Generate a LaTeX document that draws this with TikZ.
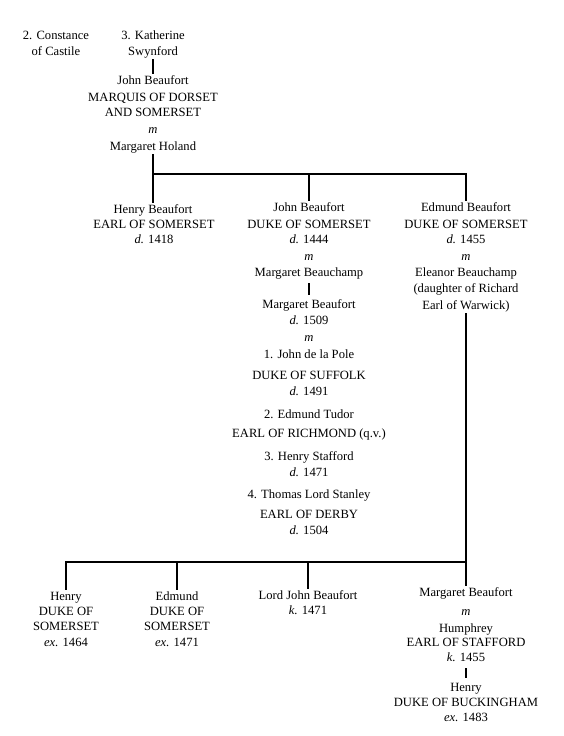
\documentclass[tikz,border=0pt]{standalone}
\usepackage{fontspec}
\setmainfont{Liberation Serif}
\begin{document}
\begin{tikzpicture}[x=1pt,y=-1pt,
  t/.style={inner xsep=1pt, inner ysep=1.5pt, text height=8.5pt, text depth=2.5pt,
            font=\fontsize{12.6}{14}\selectfont},
  link/.style={line width=1.3pt, line cap=rect},
  short/.style={shorten <=3pt, shorten >=3pt}]
\useasboundingbox[fill=white] (0,0) rectangle (564,736);

% top generation
\node[t] (con1) at (56,36) {2. Constance};
\node[t] (con2) at (56,52) {of Castile};
\node[t] (kat1) at (153,36) {3. Katherine};
\node[t] (kat2) at (153,52) {Swynford};
\node[t] (jbm1) at (153,81) {John Beaufort};
\node[t] (jbm2) at (153,98) {MARQUIS OF DORSET};
\node[t] (jbm3) at (153,113) {AND SOMERSET};
\node[t] (jbmm) at (153,130) {\textit{m}};
\node[t] (mhol) at (153,147) {Margaret Holand};

% second generation
\node[t] (hb1) at (153,210) {Henry Beaufort};
\node[t] (hb2) at (154,225) {EARL OF SOMERSET};
\node[t] (hb3) at (154,240) {\textit{d.} 1418};

\node[t] (jd1) at (309,208) {John Beaufort};
\node[t] (jd2) at (309,225) {DUKE OF SOMERSET};
\node[t] (jd3) at (309,240) {\textit{d.} 1444};
\node[t] (jdm) at (309,257) {\textit{m}};
\node[t] (mbc) at (309,273) {Margaret Beauchamp};
\node[t] (mbf1) at (309,305) {Margaret Beaufort};
\node[t] (mbf2) at (309,321) {\textit{d.} 1509};
\node[t] (mbfm) at (309,338) {\textit{m}};
\node[t] (hu1) at (309,355) {1. John de la Pole};
\node[t] (hu2) at (309,376) {DUKE OF SUFFOLK};
\node[t] (hu3) at (309,392) {\textit{d.} 1491};
\node[t] (hu4) at (309,415) {2. Edmund Tudor};
\node[t] (hu5) at (309,434) {EARL OF RICHMOND (q.v.)};
\node[t] (hu6) at (309,457) {3. Henry Stafford};
\node[t] (hu7) at (309,473) {\textit{d.} 1471};
\node[t] (hu8) at (309,495) {4. Thomas Lord Stanley};
\node[t] (hu9) at (309,515) {EARL OF DERBY};
\node[t] (hu10) at (309,531) {\textit{d.} 1504};

\node[t] (eb1) at (466,208) {Edmund Beaufort};
\node[t] (eb2) at (466,225) {DUKE OF SOMERSET};
\node[t] (eb3) at (466,240) {\textit{d.} 1455};
\node[t] (ebm) at (466,257) {\textit{m}};
\node[t] (el1) at (466,273) {Eleanor Beauchamp};
\node[t] (el2) at (466,289) {(daughter of Richard};
\node[t] (el3) at (466,306) {Earl of Warwick)};

% third generation
\node[t] (hs1) at (66,597) {Henry};
\node[t] (hs2) at (66,612) {DUKE OF};
\node[t] (hs3) at (66,627) {SOMERSET};
\node[t] (hs4) at (66,643) {\textit{ex.} 1464};

\node[t] (es1) at (177,597) {Edmund};
\node[t] (es2) at (177,612) {DUKE OF};
\node[t] (es3) at (177,627) {SOMERSET};
\node[t] (es4) at (177,643) {\textit{ex.} 1471};

\node[t] (lj1) at (308,596) {Lord John Beaufort};
\node[t] (lj2) at (308,611) {\textit{k.} 1471};

\node[t] (mg1) at (466,593) {Margaret Beaufort};
\node[t] (mgm) at (466,612) {\textit{m}};
\node[t] (mg2) at (466,629) {Humphrey};
\node[t] (mg3) at (466,643) {EARL OF STAFFORD};
\node[t] (mg4) at (466,658) {\textit{k.} 1455};
\node[t] (hbk1) at (466,688) {Henry};
\node[t] (hbk2) at (466,703) {DUKE OF BUCKINGHAM};
\node[t] (hbk3) at (466,718) {\textit{ex.} 1483};

% connectors
\coordinate (barA) at (153,174);
\coordinate (barB) at (466,562);

\draw[link] (kat2.south) -- (jbm1.north);
\draw[link] (mhol.south) -- (hb1.north);
\draw[link] (barA) -| (eb1.north);
\draw[link] (barA -| jd1.north) -- (jd1.north);
\draw[link,short] (mbc.south) -- (mbf1.north);

\draw[link] (el3.south) -- (mg1.north);
\draw[link] (barB) -| (hs1.north);
\draw[link] (barB -| es1.north) -- (es1.north);
\draw[link] (barB -| lj1.north) -- (lj1.north);
\draw[link,short] (mg4.south) -- (hbk1.north);
\end{tikzpicture}
\end{document}
